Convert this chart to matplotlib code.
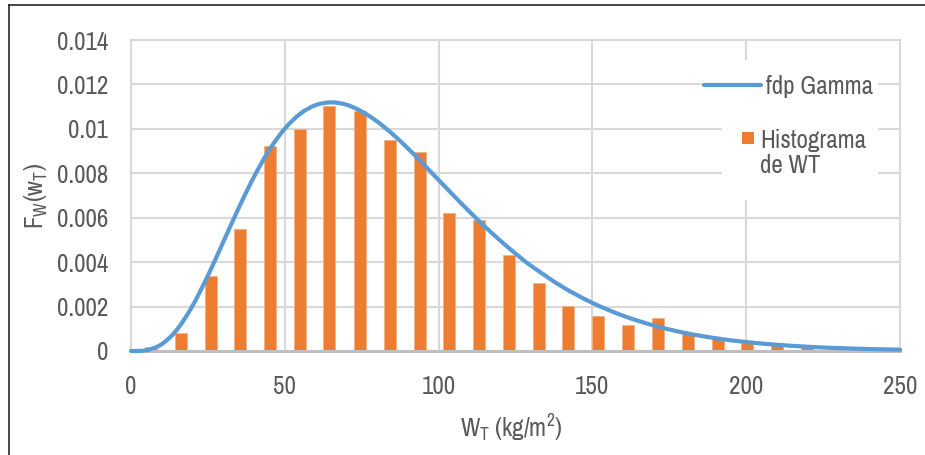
import matplotlib
matplotlib.use("Agg")
import matplotlib.pyplot as plt
from matplotlib import font_manager as fm
from matplotlib.patches import Rectangle, PathPatch
from matplotlib.path import Path
from matplotlib.lines import Line2D

# ---------------- data ----------------
bin_centers = [6.5, 16.1, 25.9, 35.5, 45.2, 54.9, 64.5, 74.4, 84.1, 93.8,
               103.5, 113.2, 122.8, 132.5, 142.2, 151.9, 161.6, 171.3, 181.0,
               190.7, 200.4, 210.1, 219.8, 229.5, 239.2, 248.9]
hist_values = [0.00020, 0.00081, 0.00338, 0.00551, 0.00924, 0.00998, 0.01102,
               0.01079, 0.00948, 0.00894, 0.00619, 0.00590, 0.00432, 0.00304,
               0.00201, 0.00156, 0.00117, 0.00147, 0.00077, 0.00058, 0.00042,
               0.00036, 0.00024, 0.00016, 0.00015, 0.00009]

curve_x = [0, 5, 10, 15, 20, 25, 30, 35, 40, 45, 50, 55, 60, 65, 70, 75, 80,
           85, 90, 95, 100, 105, 110, 115, 120, 125, 130, 140, 150, 160, 170,
           180, 190, 200, 210, 220, 230, 240, 250]
curve_y = [0.0, 0.000036, 0.000308, 0.000972, 0.002033, 0.003394, 0.004909,
           0.006434, 0.007844, 0.009059, 0.010008, 0.010678, 0.011068,
           0.011192, 0.011088, 0.010785, 0.010334, 0.009768, 0.009123,
           0.008421, 0.007698, 0.006982, 0.006279, 0.005608, 0.004977,
           0.004387, 0.003842, 0.002910, 0.002166, 0.001587, 0.001146,
           0.000817, 0.000577, 0.000403, 0.000280, 0.000192, 0.000131,
           0.000089, 0.000060]

x_ticks = [0, 50, 100, 150, 200, 250]
y_ticks = [0, 0.002, 0.004, 0.006, 0.008, 0.010, 0.012, 0.014]
y_tick_labels = ["0", "0.002", "0.004", "0.006", "0.008", "0.01", "0.012", "0.014"]

line_label = "fdp Gamma"
bar_label = "Histograma\nde WT"
x_label = r"W$_\mathregular{T}$ (kg/m$^\mathregular{2}$)"
y_label = r"F$_\mathregular{W}$(w$_\mathregular{T}$)"

# ---------------- fonts ----------------
available = {f.name for f in fm.fontManager.ttflist}
narrow_pref = ["Liberation Sans Narrow", "Nimbus Sans Narrow", "Arial Narrow",
               "Archivo Narrow", "Roboto Condensed", "PT Sans Narrow",
               "Pragati Narrow", "Fira Sans Condensed", "IBM Plex Sans Condensed"]
chosen = next((n for n in narrow_pref if n in available), None)
if chosen is not None:
    plt.rcParams["font.family"] = [chosen, "DejaVu Sans"]
    plt.rcParams["font.stretch"] = "normal"
else:
    plt.rcParams["font.family"] = ["Open Sans", "DejaVu Sans"]
    plt.rcParams["font.stretch"] = "condensed"
plt.rcParams["mathtext.default"] = "regular"

TXT = "#595959"
GRID = "#D9D9D9"
BLUE = "#5B9BD5"
ORANGE = "#ED7D31"
FS = 18

W, H = 925, 455
fig = plt.figure(figsize=(W / 100, H / 100), dpi=100)
L, R, T, B = 131, 900, 40, 351
ax = fig.add_axes([L / W, (H - B) / H, (R - L) / W, (B - T) / H])


def ax_x(px):
    return (px - L) / (R - L)


def ax_y(py):
    return (B - py) / (B - T)


ax.bar(bin_centers, hist_values, width=3.9, color=ORANGE, edgecolor="#F4B183",
       linewidth=0.6, zorder=2)

# smoothed line (Catmull-Rom -> cubic Bezier), like Excel's smoothed line
pts = list(zip(curve_x, curve_y))
verts = [pts[0]]
codes = [Path.MOVETO]
n = len(pts)
for i in range(n - 1):
    p0 = pts[i - 1] if i > 0 else pts[i]
    p1 = pts[i]
    p2 = pts[i + 1]
    p3 = pts[i + 2] if i + 2 < n else pts[i + 1]
    c1 = (p1[0] + (p2[0] - p0[0]) / 6, p1[1] + (p2[1] - p0[1]) / 6)
    c2 = (p2[0] - (p3[0] - p1[0]) / 6, p2[1] - (p3[1] - p1[1]) / 6)
    verts += [c1, c2, p2]
    codes += [Path.CURVE4] * 3
ax.add_patch(PathPatch(Path(verts, codes), facecolor="none", edgecolor=BLUE,
                       lw=3.0, capstyle="round", joinstyle="round", zorder=4,
                       clip_on=False))

ax.set_xlim(0, 250)
ax.set_ylim(0, 0.014)
ax.set_xticks(x_ticks)
ax.set_yticks(y_ticks)
ax.set_yticklabels(y_tick_labels)
ax.tick_params(axis="both", length=0, labelsize=FS, labelcolor=TXT)
ax.tick_params(axis="x", pad=17)
ax.tick_params(axis="y", pad=16.5)
ax.set_axisbelow(True)
ax.grid(True, color=GRID, lw=1.5)
for s in ["top", "right", "left"]:
    ax.spines[s].set_color(GRID)
    ax.spines[s].set_linewidth(1.5)
ax.spines["bottom"].set_color("#BFBFBF")
ax.spines["bottom"].set_linewidth(2.2)
ax.spines["bottom"].set_zorder(3)

ax.set_xlabel(x_label, fontsize=FS, color=TXT)
ax.xaxis.label.set(va="center", ha="center")
ax.xaxis.set_label_coords(ax_x(511), ax_y(428))
ax.set_ylabel(y_label, fontsize=FS, color=TXT)
ax.yaxis.label.set(va="center", ha="center", rotation_mode="default")
ax.yaxis.set_label_coords(ax_x(36), ax_y(196))

# legend (Excel style, drawn inside the plot area)
ax.add_patch(Rectangle((ax_x(722), ax_y(200)), ax_x(878) - ax_x(722),
                       ax_y(60) - ax_y(200), transform=ax.transAxes,
                       facecolor="white", edgecolor="none", zorder=2.5))
ax.add_line(Line2D([ax_x(704), ax_x(761)], [ax_y(85), ax_y(85)],
                   transform=ax.transAxes, color=BLUE, lw=3.0,
                   solid_capstyle="round", zorder=3))
ax.text(ax_x(766), ax_y(86), line_label, transform=ax.transAxes, fontsize=FS,
        color=TXT, ha="left", va="center", zorder=3)
ax.add_patch(Rectangle((ax_x(742), ax_y(144)), ax_x(754) - ax_x(742),
                       ax_y(132) - ax_y(144), transform=ax.transAxes,
                       facecolor=ORANGE, edgecolor="none", zorder=3))
ax.text(ax_x(760), ax_y(153), bar_label, transform=ax.transAxes, fontsize=FS,
        color=TXT, ha="left", va="center", linespacing=1.1, zorder=3)

# outer chart frame (left and top edges visible)
fig.add_artist(Line2D([8.5 / W, 8.5 / W], [0, (H - 5) / H], color="#262626", lw=1.2))
fig.add_artist(Line2D([8.5 / W, 1], [(H - 5) / H, (H - 5) / H], color="#262626", lw=1.2))

fig.savefig("out.png", dpi=100)
